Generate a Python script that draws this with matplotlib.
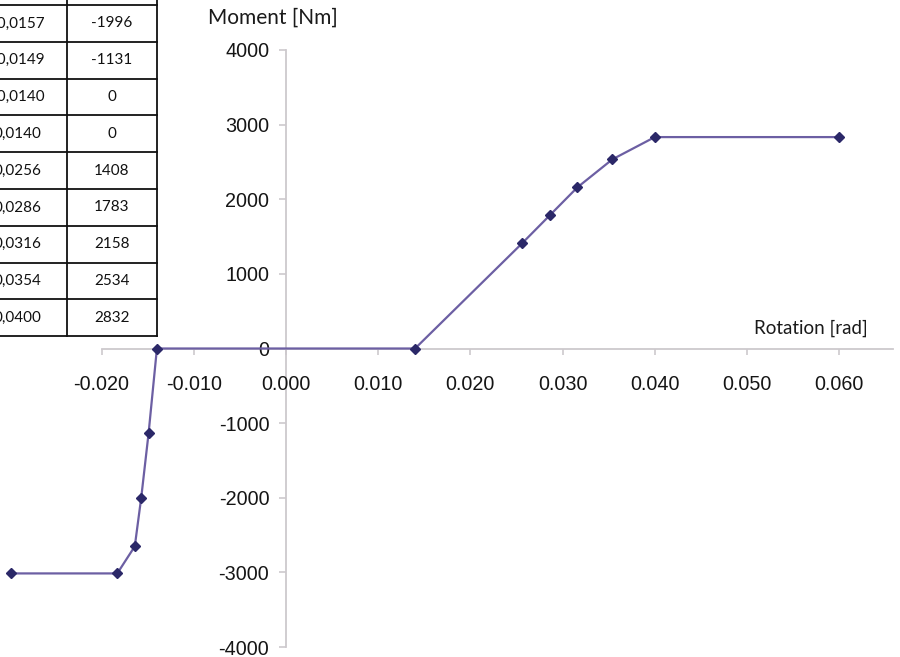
import matplotlib
matplotlib.use("Agg")
import matplotlib.pyplot as plt
from matplotlib.lines import Line2D

# ---- data ----
rotation = [-0.0298, -0.0183, -0.0164, -0.0157, -0.0149, -0.0140, 0.0140,
            0.0256, 0.0286, 0.0316, 0.0354, 0.0400, 0.0600]
moment = [-3013, -3013, -2650, -1996, -1131, 0, 0,
          1408, 1783, 2158, 2534, 2832, 2832]

table_rot = ["-0,0157", "-0,0149", "-0,0140", "0,0140", "0,0256",
             "0,0286", "0,0316", "0,0354", "0,0400"]
table_mom = ["-1996", "-1131", "0", "0", "1408", "1783", "2158", "2534", "2832"]

x_ticks = [-0.020, -0.010, 0.000, 0.010, 0.020, 0.030, 0.040, 0.050, 0.060]
x_tick_labels = ["-0.020", "-0.010", "0.000", "0.010", "0.020", "0.030",
                 "0.040", "0.050", "0.060"]
y_ticks = [-4000, -3000, -2000, -1000, 0, 1000, 2000, 3000, 4000]
y_tick_labels = ["-4000", "-3000", "-2000", "-1000", "0", "1000", "2000",
                 "3000", "4000"]

# ---- layout (pixels) ----
W, H = 900, 657
fig = plt.figure(figsize=(W / 100, H / 100), dpi=100)

x0_px, ppx = 286.0, 9220.0      # pixel of x=0, pixels per unit
y0_px, ppy = 348.5, 0.07465     # pixel of y=0 (from top), pixels per unit
xlim = (-0.031, 0.0665)
ylim = (-4050, 4050)
left_px = x0_px + xlim[0] * ppx
right_px = x0_px + xlim[1] * ppx
top_px = y0_px - ylim[1] * ppy
bot_px = y0_px - ylim[0] * ppy
ax = fig.add_axes([left_px / W, (H - bot_px) / H,
                   (right_px - left_px) / W, (bot_px - top_px) / H])
ax.set_xlim(*xlim)
ax.set_ylim(*ylim)
ax.patch.set_visible(False)

axis_col = "#cdc9cd"
for s in ["top", "right"]:
    ax.spines[s].set_visible(False)
ax.spines["left"].set_position(("data", 0))
ax.spines["bottom"].set_position(("data", 0))
ax.spines["left"].set_bounds(-4000, 4000)
ax.spines["bottom"].set_bounds(-0.020, 0.0658)
for s in ["left", "bottom"]:
    ax.spines[s].set_color(axis_col)
    ax.spines[s].set_linewidth(1.3)
    ax.spines[s].set_zorder(0.5)

tick_font = dict(family=["Liberation Sans", "DejaVu Sans"], size=14.2)
ax.set_xticks(x_ticks)
ax.set_xticklabels(x_tick_labels, **tick_font)
ax.set_yticks(y_ticks)
ax.set_yticklabels(y_tick_labels, **tick_font)
ax.tick_params(axis="x", direction="out", length=4, width=1.2, color=axis_col,
               pad=15, labelcolor="#151515")
ax.tick_params(axis="y", direction="out", length=5, width=1.2, color=axis_col,
               pad=7, labelcolor="#151515")

ax.plot(rotation, moment, color="#6c5fa3", linewidth=1.6, zorder=3,
        marker="D", markersize=4.8, markerfacecolor="#2b2868",
        markeredgecolor="#2b2868", clip_on=False)

title_font = ["Lato", "DejaVu Sans"]
fig.text(208 / W, 1 - 18 / H, "Moment [Nm]", family=title_font, size=15,
         color="#1a1a1a", ha="left", va="center")
fig.text(868 / W, 1 - 328 / H, "Rotation [rad]", family=title_font, size=13.5,
         color="#1a1a1a", ha="right", va="center")

# ---- table (cropped at the left edge) ----
row_top = 5.0
row_h = 36.8
col_lines = [67, 157]
col_centres = [17.5, 112]
n = len(table_rot)
lw = 1.3
for i in range(n + 1):
    y = row_top + i * row_h
    fig.add_artist(Line2D([0, col_lines[1] / W], [1 - y / H, 1 - y / H],
                          transform=fig.transFigure, color="#111111", lw=lw))
for xc in col_lines:
    fig.add_artist(Line2D([xc / W, xc / W], [1, 1 - (row_top + n * row_h) / H],
                          transform=fig.transFigure, color="#111111", lw=lw))
tab_font = ["Lato", "DejaVu Sans"]
for i in range(n):
    yc = row_top + (i + 0.5) * row_h
    fig.text(col_centres[0] / W, 1 - yc / H, table_rot[i], family=tab_font,
             size=11, ha="center", va="center", color="#111111")
    fig.text(col_centres[1] / W, 1 - yc / H, table_mom[i], family=tab_font,
             size=11, ha="center", va="center", color="#111111")

fig.savefig("out.png", dpi=100)
